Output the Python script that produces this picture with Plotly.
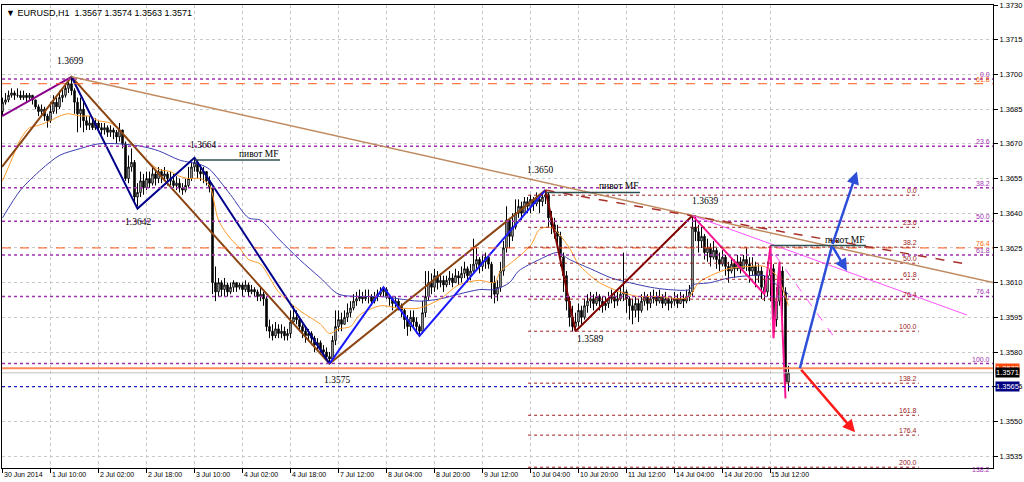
import plotly.graph_objects as go

# ---------------- data ----------------
symbol = "EURUSD,H1"
x_label_bars = [0, 16, 32, 48, 64, 80, 96, 112, 128, 144, 160, 176, 192, 208, 224, 240, 256]
x_labels = ["30 Jun 2014", "1 Jul 10:00", "2 Jul 02:00", "2 Jul 18:00", "3 Jul 10:00", "4 Jul 02:00",
            "4 Jul 18:00", "7 Jul 12:00", "8 Jul 04:00", "8 Jul 20:00", "9 Jul 12:00", "10 Jul 04:00",
            "10 Jul 20:00", "11 Jul 12:00", "14 Jul 04:00", "14 Jul 20:00", "15 Jul 12:00"]
y_ticks = [1.3535, 1.3550, 1.3565, 1.3580, 1.3595, 1.3610, 1.3625, 1.3640, 1.3655, 1.3670,
           1.3685, 1.3700, 1.3715, 1.3730]

first_open = 1.3684
closes = [
    1.3688, 1.3689, 1.3691, 1.3692, 1.3691, 1.3691, 1.3690, 1.3691, 1.3690, 1.3691,
    1.3689, 1.3686, 1.3684, 1.3685, 1.3682, 1.3680, 1.3684, 1.3688, 1.3686, 1.3690,
    1.3691, 1.3694, 1.3696, 1.3693, 1.3688, 1.3683, 1.3685, 1.3680, 1.3678, 1.3679,
    1.3677, 1.3679, 1.3677, 1.3676, 1.3677, 1.3675, 1.3676, 1.3675, 1.3673, 1.3676,
    1.3670, 1.3655, 1.3660, 1.3662, 1.3647, 1.3649, 1.3654, 1.3651, 1.3655, 1.3653,
    1.3657, 1.3655, 1.3658, 1.3656, 1.3657, 1.3655, 1.3654, 1.3652, 1.3653, 1.3651,
    1.3650, 1.3652, 1.3655, 1.3660, 1.3662, 1.3658, 1.3657, 1.3658, 1.3654, 1.3651,
    1.3610, 1.3606, 1.3610, 1.3607, 1.3609, 1.3606, 1.3608, 1.3610, 1.3608, 1.3609,
    1.3607, 1.3609, 1.3606, 1.3607, 1.3606, 1.3604, 1.3605, 1.3603, 1.3591, 1.3589,
    1.3587, 1.3590, 1.3588, 1.3589, 1.3587, 1.3588, 1.3593, 1.3595, 1.3594, 1.3591,
    1.3589, 1.3587, 1.3588, 1.3586, 1.3583, 1.3584, 1.3581, 1.3580, 1.3578, 1.3577,
    1.3585, 1.3591, 1.3594, 1.3592, 1.3595, 1.3597, 1.3599, 1.3602, 1.3603, 1.3604,
    1.3603, 1.3604, 1.3604, 1.3602, 1.3604, 1.3605, 1.3606, 1.3607, 1.3604, 1.3603,
    1.3601, 1.3602, 1.3600, 1.3598, 1.3594, 1.3591, 1.3595, 1.3593, 1.3591, 1.3589,
    1.3597, 1.3604, 1.3610, 1.3608, 1.3613, 1.3610, 1.3611, 1.3609, 1.3611, 1.3612,
    1.3610, 1.3613, 1.3612, 1.3614, 1.3616, 1.3613, 1.3615, 1.3618, 1.3620, 1.3617,
    1.3619, 1.3621, 1.3618, 1.3610, 1.3605, 1.3608, 1.3615, 1.3625, 1.3637, 1.3630,
    1.3634, 1.3640, 1.3643, 1.3640, 1.3645, 1.3643, 1.3646, 1.3644, 1.3646, 1.3645,
    1.3647, 1.3648, 1.3638, 1.3635, 1.3632, 1.3630, 1.3621, 1.3613, 1.3602, 1.3595,
    1.3591, 1.3593, 1.3598, 1.3595, 1.3600, 1.3602, 1.3603, 1.3601, 1.3604, 1.3602,
    1.3600, 1.3601, 1.3603, 1.3604, 1.3602, 1.3603, 1.3605, 1.3606, 1.3603, 1.3600,
    1.3598, 1.3601, 1.3598, 1.3602, 1.3604, 1.3601, 1.3603, 1.3604, 1.3602, 1.3604,
    1.3601, 1.3603, 1.3601, 1.3602, 1.3603, 1.3601, 1.3603, 1.3602, 1.3604, 1.3606,
    1.3634, 1.3632, 1.3628, 1.3630, 1.3623, 1.3625, 1.3621, 1.3624, 1.3620, 1.3618,
    1.3621, 1.3617, 1.3615, 1.3618, 1.3616, 1.3619, 1.3616, 1.3620, 1.3618, 1.3615,
    1.3617, 1.3613, 1.3615, 1.3608, 1.3606, 1.3613, 1.3616, 1.3594, 1.3602, 1.3615,
    1.3606, 1.3567, 1.3571]
highs = [
    1.3690, 1.3692, 1.3693, 1.3694, 1.3693, 1.3694, 1.3693, 1.3693, 1.3692, 1.3692,
    1.3691, 1.3689, 1.3687, 1.3687, 1.3686, 1.3683, 1.3688, 1.3691, 1.3690, 1.3693,
    1.3694, 1.3696, 1.3698, 1.3699, 1.3694, 1.3690, 1.3690, 1.3688, 1.3682, 1.3682,
    1.3681, 1.3681, 1.3680, 1.3679, 1.3679, 1.3678, 1.3678, 1.3677, 1.3676, 1.3679,
    1.3676, 1.3671, 1.3665, 1.3668, 1.3663, 1.3653, 1.3658, 1.3657, 1.3658, 1.3658,
    1.3660, 1.3659, 1.3660, 1.3659, 1.3660, 1.3658, 1.3658, 1.3657, 1.3656, 1.3655,
    1.3653, 1.3655, 1.3660, 1.3662, 1.3664, 1.3663, 1.3661, 1.3660, 1.3658, 1.3656,
    1.3651, 1.3617, 1.3612, 1.3611, 1.3612, 1.3610, 1.3610, 1.3611, 1.3610, 1.3610,
    1.3610, 1.3611, 1.3610, 1.3609, 1.3608, 1.3607, 1.3608, 1.3606, 1.3604, 1.3594,
    1.3592, 1.3593, 1.3592, 1.3592, 1.3591, 1.3590, 1.3598, 1.3600, 1.3598, 1.3595,
    1.3592, 1.3591, 1.3590, 1.3589, 1.3587, 1.3586, 1.3585, 1.3583, 1.3582, 1.3580,
    1.3587, 1.3598, 1.3598, 1.3597, 1.3598, 1.3601, 1.3602, 1.3605, 1.3606, 1.3607,
    1.3606, 1.3607, 1.3607, 1.3605, 1.3606, 1.3607, 1.3608, 1.3608, 1.3608, 1.3605,
    1.3604, 1.3604, 1.3603, 1.3601, 1.3599, 1.3596, 1.3598, 1.3598, 1.3595, 1.3592,
    1.3602, 1.3615, 1.3615, 1.3614, 1.3616, 1.3615, 1.3614, 1.3613, 1.3613, 1.3615,
    1.3614, 1.3616, 1.3615, 1.3617, 1.3619, 1.3617, 1.3618, 1.3629, 1.3625, 1.3621,
    1.3622, 1.3623, 1.3622, 1.3619, 1.3613, 1.3611, 1.3619, 1.3628, 1.3643, 1.3638,
    1.3640, 1.3646, 1.3646, 1.3645, 1.3647, 1.3647, 1.3648, 1.3647, 1.3649, 1.3648,
    1.3649, 1.3650, 1.3649, 1.3641, 1.3638, 1.3635, 1.3632, 1.3623, 1.3615, 1.3604,
    1.3600, 1.3597, 1.3601, 1.3600, 1.3603, 1.3605, 1.3606, 1.3605, 1.3606, 1.3605,
    1.3604, 1.3604, 1.3606, 1.3607, 1.3606, 1.3606, 1.3608, 1.3623, 1.3607, 1.3604,
    1.3603, 1.3604, 1.3603, 1.3605, 1.3606, 1.3605, 1.3606, 1.3607, 1.3606, 1.3607,
    1.3605, 1.3606, 1.3604, 1.3604, 1.3606, 1.3605, 1.3606, 1.3605, 1.3607, 1.3609,
    1.3639, 1.3639, 1.3635, 1.3634, 1.3631, 1.3629, 1.3627, 1.3628, 1.3625, 1.3623,
    1.3624, 1.3622, 1.3619, 1.3621, 1.3620, 1.3622, 1.3621, 1.3622, 1.3625, 1.3621,
    1.3621, 1.3619, 1.3618, 1.3617, 1.3613, 1.3619, 1.3626, 1.3618, 1.3608, 1.3619,
    1.3617, 1.3608, 1.3574]
lows = [
    1.3682, 1.3687, 1.3688, 1.3690, 1.3689, 1.3690, 1.3689, 1.3689, 1.3688, 1.3689,
    1.3687, 1.3685, 1.3682, 1.3682, 1.3680, 1.3677, 1.3679, 1.3683, 1.3683, 1.3685,
    1.3688, 1.3690, 1.3692, 1.3691, 1.3683, 1.3675, 1.3677, 1.3675, 1.3676, 1.3676,
    1.3676, 1.3676, 1.3675, 1.3674, 1.3674, 1.3673, 1.3673, 1.3672, 1.3670, 1.3671,
    1.3668, 1.3654, 1.3653, 1.3658, 1.3644, 1.3643, 1.3647, 1.3648, 1.3650, 1.3651,
    1.3652, 1.3652, 1.3653, 1.3653, 1.3654, 1.3652, 1.3652, 1.3651, 1.3650, 1.3649,
    1.3648, 1.3649, 1.3651, 1.3654, 1.3658, 1.3655, 1.3654, 1.3653, 1.3652, 1.3649,
    1.3605, 1.3602, 1.3604, 1.3604, 1.3604, 1.3604, 1.3605, 1.3606, 1.3606, 1.3607,
    1.3604, 1.3606, 1.3604, 1.3605, 1.3604, 1.3602, 1.3602, 1.3600, 1.3589, 1.3586,
    1.3585, 1.3586, 1.3586, 1.3586, 1.3585, 1.3585, 1.3586, 1.3592, 1.3592, 1.3589,
    1.3586, 1.3584, 1.3585, 1.3583, 1.3580, 1.3581, 1.3579, 1.3578, 1.3577, 1.3575,
    1.3576, 1.3583, 1.3589, 1.3589, 1.3592, 1.3593, 1.3595, 1.3598, 1.3600, 1.3602,
    1.3601, 1.3602, 1.3601, 1.3600, 1.3601, 1.3602, 1.3604, 1.3604, 1.3603, 1.3600,
    1.3598, 1.3599, 1.3598, 1.3595, 1.3590, 1.3587, 1.3589, 1.3591, 1.3588, 1.3587,
    1.3588, 1.3595, 1.3602, 1.3605, 1.3606, 1.3607, 1.3608, 1.3606, 1.3608, 1.3609,
    1.3608, 1.3610, 1.3609, 1.3610, 1.3612, 1.3610, 1.3611, 1.3614, 1.3616, 1.3614,
    1.3615, 1.3616, 1.3616, 1.3603, 1.3601, 1.3602, 1.3606, 1.3613, 1.3623, 1.3625,
    1.3628, 1.3633, 1.3638, 1.3637, 1.3640, 1.3640, 1.3640, 1.3641, 1.3643, 1.3640,
    1.3643, 1.3644, 1.3634, 1.3631, 1.3629, 1.3625, 1.3617, 1.3606, 1.3598, 1.3591,
    1.3589, 1.3589, 1.3591, 1.3592, 1.3594, 1.3597, 1.3599, 1.3598, 1.3600, 1.3598,
    1.3597, 1.3598, 1.3599, 1.3601, 1.3599, 1.3600, 1.3602, 1.3602, 1.3597, 1.3594,
    1.3592, 1.3595, 1.3593, 1.3597, 1.3600, 1.3598, 1.3599, 1.3601, 1.3600, 1.3601,
    1.3599, 1.3600, 1.3598, 1.3599, 1.3600, 1.3599, 1.3601, 1.3599, 1.3601, 1.3602,
    1.3604, 1.3628, 1.3623, 1.3625, 1.3620, 1.3619, 1.3617, 1.3620, 1.3616, 1.3615,
    1.3617, 1.3613, 1.3610, 1.3614, 1.3612, 1.3615, 1.3614, 1.3616, 1.3615, 1.3610,
    1.3613, 1.3608, 1.3610, 1.3603, 1.3602, 1.3604, 1.3602, 1.3586, 1.3591, 1.3600,
    1.3595, 1.3560, 1.3563]

# moving averages (sampled at bars)
fast_ma_bars = [0, 3, 6, 9, 12, 16, 19, 22, 26, 29, 32, 36, 39, 42, 46, 49, 52, 56, 59, 62, 66, 69,
                72, 76, 79, 82, 86, 92, 99, 106, 109, 112, 116, 119, 126, 132, 139, 146, 152, 159,
                164, 166, 169, 176, 179, 182, 184, 189, 192, 199, 206, 212, 219, 226, 229, 232, 236,
                242, 249, 254, 258, 262]
fast_ma_vals = [1.3654, 1.3663, 1.3672, 1.3677, 1.3678, 1.3680, 1.3682, 1.3683, 1.3682, 1.3682,
                1.3680, 1.3679, 1.3676, 1.3672, 1.3666, 1.3662, 1.3659, 1.3658, 1.3656, 1.3655,
                1.3655, 1.3652, 1.3637, 1.3629, 1.3625, 1.3620, 1.3618, 1.3606, 1.3598, 1.3592,
                1.3588, 1.3590, 1.3591, 1.3596, 1.3600, 1.3599, 1.3599, 1.3603, 1.3609, 1.3611,
                1.3610, 1.3615, 1.3618, 1.3626, 1.3633, 1.3634, 1.3633, 1.3625, 1.3618, 1.3610,
                1.3606, 1.3604, 1.3604, 1.3603, 1.3604, 1.3610, 1.3613, 1.3616, 1.3617, 1.3617,
                1.3613, 1.3600]
slow_ma_bars = [0, 6, 13, 19, 26, 32, 39, 46, 52, 59, 66, 69, 76, 82, 86, 92, 99, 106, 112, 119,
                126, 132, 139, 146, 152, 159, 164, 169, 172, 179, 185, 189, 196, 203, 209, 216, 222,
                229, 230, 236, 242, 249, 254, 259, 262]
slow_ma_vals = [1.3638, 1.3650, 1.3659, 1.3665, 1.3668, 1.3670, 1.3670, 1.3669, 1.3667, 1.3663,
                1.3661, 1.3659, 1.3648, 1.3638, 1.3637, 1.3629, 1.3620, 1.3612, 1.3605, 1.3604,
                1.3604, 1.3603, 1.3602, 1.3603, 1.3605, 1.3607, 1.3607, 1.3610, 1.3615, 1.3620,
                1.3623, 1.3620, 1.3616, 1.3612, 1.3610, 1.3608, 1.3607, 1.3607, 1.3609, 1.3610,
                1.3612, 1.3613, 1.3613, 1.3608, 1.3605]

# zigzag swings (bar, price)
X_LEFT = -0.17
zz_purple = ([X_LEFT, 23], [1.3682, 1.3699])
zz_brown = ([X_LEFT, 23, 109, 181], [1.3660, 1.3699, 1.3575, 1.3650])
zz_navy = ([23, 45, 64, 109], [1.3699, 1.3642, 1.3664, 1.3575])
zz_blue = ([109, 127, 139, 181], [1.3575, 1.3608, 1.3587, 1.3650])
zz_maroon = ([181, 191, 230], [1.3650, 1.3589, 1.3639])
zz_pink = ([230, 254, 256, 257, 259, 261], [1.3639, 1.3605, 1.3626, 1.3586, 1.3619, 1.3560])

# swing labels: bar, price, x-shift px, y-shift px
swing_bars = [23, 45, 64, 109, 181, 191, 230]
swing_prices = [1.3699, 1.3642, 1.3664, 1.3575, 1.3650, 1.3589, 1.3639]
swing_dx = [-1.5, 0, 8.5, 7.5, -5.5, 14.5, 12.5]
swing_dy = [16, -13, 13, -16, 20, -8, 15]

# trend lines (x0, y0, x1, y1)
trend_brown = (23, 1.3699, 330.2, 1.3610)
trend_maroon_dash = (181, 1.3650, 321.5, 1.3618)
trend_violet = (230, 1.3639, 321.5, 1.3596)
trend_violet_dash = (257.5, 1.3622, 277.5, 1.3586)

# "пивот MF" levels (x0, x1, price)
pivots = [(64, 92.5, 1.3663), (181, 212.5, 1.3649), (256, 287.8, 1.3626)]

# Fibonacci objects
fib_levels_a = [0.0, 23.6, 38.2, 50.0, 61.8, 76.4, 100.0, 138.2]
fib_a_p0, fib_a_p100 = 1.3698, 1.3575
fib_levels_b = [0.0, 23.6, 38.2, 50.0, 61.8, 76.4, 100.0, 138.2, 161.8, 176.4, 200.0]
fib_b_p0, fib_b_p100 = 1.36478, 1.35890
fib_b_x0, fib_b_x1 = 175.2, 305.5
fib_levels_c = [61.8, 76.4]
fib_c_prices = [1.3696, 1.3625]

# price lines
ask_line = 1.3573
bid_line = 1.3571
blue_level = 1.3565

# forecast arrows (bar, price)
arrow_start = (265.8, 1.3573)
blue_mid = (276.5, 1.3626)
blue_up_end = (284.8, 1.3658)
blue_pull_end = (281.5, 1.3615)
red_end = (284.2, 1.35453)

Y_MIN, Y_MAX = 1.352986, 1.373003

# ---------------- figure ----------------
n = min(len(closes), len(highs), len(lows))
opens = [first_open] + closes[:n - 1]
hi = [max(highs[i], opens[i], closes[i]) for i in range(n)]
lo = [min(lows[i], opens[i], closes[i]) for i in range(n)]
bars = list(range(n))

fig = go.Figure()

fig.add_trace(go.Candlestick(
    x=bars, open=opens, high=hi, low=lo, close=closes[:n],
    increasing=dict(line=dict(color="black", width=1), fillcolor="white"),
    decreasing=dict(line=dict(color="black", width=1), fillcolor="black"),
    whiskerwidth=0, showlegend=False, hoverinfo="skip"))

fig.add_trace(go.Scatter(x=slow_ma_bars, y=slow_ma_vals, mode="lines",
                         line=dict(color="#3c3cb0", width=1, shape="spline", smoothing=0.8),
                         showlegend=False, hoverinfo="skip"))
fig.add_trace(go.Scatter(x=fast_ma_bars, y=fast_ma_vals, mode="lines",
                         line=dict(color="#ff9a28", width=1, shape="spline", smoothing=0.8),
                         showlegend=False, hoverinfo="skip"))

for (xs, ys), col in [(zz_purple, "#8b008b"), (zz_brown, "#8b4513"), (zz_navy, "#00008b"),
                      (zz_blue, "#1a1aff"), (zz_maroon, "#800000"), (zz_pink, "#ff1493")]:
    fig.add_trace(go.Scatter(x=xs, y=ys, mode="lines", line=dict(color=col, width=2),
                             showlegend=False, hoverinfo="skip"))

shapes = []
annos = []

def hline_paper(price, color, width, dash):
    shapes.append(dict(type="line", xref="paper", x0=0, x1=1, yref="y", y0=price, y1=price,
                       line=dict(color=color, width=width, dash=dash), layer="above"))

def level_label(xval, price, text, color):
    if price >= Y_MIN:
        annos.append(dict(x=xval, y=price, xref="x", yref="y", text=text, showarrow=False,
                          xanchor="right", yanchor="bottom", yshift=-1,
                          font=dict(size=7, color=color, family="Liberation Sans")))
    else:  # level just below the visible range: label peeks at bottom edge
        annos.append(dict(x=xval, y=0, xref="x", yref="paper", text=text, showarrow=False,
                          xanchor="right", yanchor="middle", yshift=-1,
                          font=dict(size=7, color=color, family="Liberation Sans")))

# fib A (purple, full width)
for lv in fib_levels_a:
    p = fib_a_p0 + (fib_a_p100 - fib_a_p0) * lv / 100.0
    hline_paper(p, "#a030b0", 1.5, "dot")
    level_label(330, p, f"{lv:.1f}", "#a030b0")
# fib C (orange dashed, full width)
for lv, p in zip(fib_levels_c, fib_c_prices):
    hline_paper(p, "#ff5a1a", 1, "dash")
    level_label(330, p, f"{lv:.1f}", "#ff6a00")
# fib B (dark red)
for lv in fib_levels_b:
    p = fib_b_p0 + (fib_b_p100 - fib_b_p0) * lv / 100.0
    shapes.append(dict(type="line", xref="x", x0=fib_b_x0, x1=fib_b_x1, yref="y", y0=p, y1=p,
                       line=dict(color="#9a1c1c", width=1, dash="dot"), layer="above"))
    level_label(fib_b_x1, p, f"{lv:.1f}", "#9a1c1c")

# price lines
hline_paper(blue_level, "#1c1cc8", 1.2, "dot")
hline_paper(bid_line, "#c0c0c0", 1, "solid")
hline_paper(ask_line, "#ff8a5a", 2, "solid")

# trend lines
for (x0, y0, x1, y1), col, w, dash in [
        (trend_brown, "#c08a60", 1.5, "solid"),
        (trend_maroon_dash, "#a8302a", 1.5, "dash"),
        (trend_violet, "#ff55ff", 1, "solid"),
        (trend_violet_dash, "#ff55ff", 1, "dash")]:
    shapes.append(dict(type="line", xref="x", yref="y", x0=x0, y0=y0, x1=x1, y1=y1,
                       line=dict(color=col, width=w, dash=dash), layer="above"))

# pivots
for x0, x1, p in pivots:
    shapes.append(dict(type="line", xref="x", yref="y", x0=x0, x1=x1, y0=p, y1=p,
                       line=dict(color="#2f4f4f", width=1.5), layer="above"))
    annos.append(dict(x=x1, y=p, xref="x", yref="y", text="пивот MF", showarrow=False,
                      xanchor="right", yanchor="bottom", yshift=-1,
                      font=dict(size=9.5, color="black", family="Liberation Serif")))

# swing labels
for b, p, dx, dy in zip(swing_bars, swing_prices, swing_dx, swing_dy):
    annos.append(dict(x=b, y=p, xref="x", yref="y", text=f"{p:.4f}", showarrow=False,
                      xshift=dx, yshift=dy, xanchor="center", yanchor="middle",
                      font=dict(size=9.5, color="black", family="Liberation Serif")))

# forecast arrows
shapes.append(dict(type="line", xref="x", yref="y", x0=arrow_start[0], y0=arrow_start[1],
                   x1=blue_mid[0], y1=blue_mid[1], line=dict(color="#2d4fd8", width=2.5),
                   layer="above"))
for tail, head, col in [(blue_mid, blue_up_end, "#2d4fd8"), (blue_mid, blue_pull_end, "#2d4fd8"),
                        (arrow_start, red_end, "#ff1a1a")]:
    annos.append(dict(x=head[0], y=head[1], ax=tail[0], ay=tail[1], xref="x", yref="y",
                      axref="x", ayref="y", text="", showarrow=True, arrowhead=2,
                      arrowsize=1, arrowwidth=2.5, arrowcolor=col, standoff=0))

# right-axis price boxes
for p, bg in [(ask_line, "#ff4a10"), (bid_line, "#000000"), (blue_level, "#000080")]:
    annos.append(dict(x=1, y=p, xref="paper", yref="y", text=f"{p:.4f}", showarrow=False,
                      xanchor="left", yanchor="middle", xshift=2, bgcolor=bg, borderpad=0,
                      font=dict(size=7.5, color="white", family="Liberation Sans")))

# x labels (left aligned at tick)
for b, t in zip(x_label_bars, x_labels):
    annos.append(dict(x=b, y=0, xref="x", yref="paper", text=t, showarrow=False,
                      xanchor="left", yanchor="top", xshift=-1, yshift=-1,
                      font=dict(size=7, color="black", family="Liberation Sans")))

# header
last = n - 1
annos.append(dict(x=0, y=1, xref="paper", yref="paper",
                  text=f"▼ {symbol}  {opens[last]:.4f} {hi[last]:.4f} {lo[last]:.4f} {closes[last]:.4f}",
                  showarrow=False, xanchor="left", yanchor="top", xshift=2, yshift=-1,
                  font=dict(size=9, color="black", family="Liberation Sans")))

fig.update_layout(
    width=1024, height=482,
    margin=dict(l=2, r=31, t=1, b=14, pad=0),
    paper_bgcolor="white", plot_bgcolor="white",
    showlegend=False,
    shapes=shapes, annotations=annos,
    xaxis=dict(range=[X_LEFT, 330.17], rangeslider=dict(visible=False),
               tickmode="array", tickvals=x_label_bars, showticklabels=False,
               ticks="outside", ticklen=4, tickcolor="black",
               showgrid=True, gridcolor="#c8c8c8", griddash="dot", gridwidth=1,
               showline=True, linecolor="black", linewidth=1, mirror=True, zeroline=False),
    yaxis=dict(range=[Y_MIN, Y_MAX], side="right",
               tickmode="array", tickvals=y_ticks, ticktext=[f"{v:.4f}" for v in y_ticks],
               ticks="outside", ticklen=4, tickcolor="black", ticklabeloverflow="allow",
               tickfont=dict(size=7.5, color="black", family="Liberation Sans"),
               showgrid=True, gridcolor="#c8c8c8", griddash="dot", gridwidth=1,
               showline=True, linecolor="black", linewidth=1, mirror=True, zeroline=False),
)

fig.write_html("out.html", config={"displayModeBar": False},
               post_script="document.body.style.margin='0';document.body.style.overflow='hidden';")
